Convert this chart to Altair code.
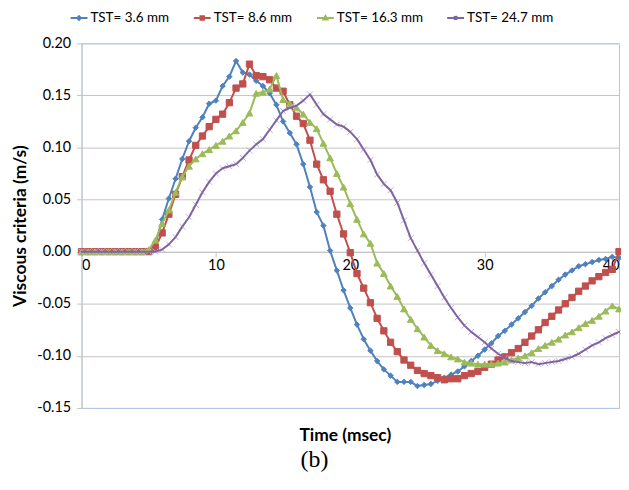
import altair as alt
import pandas as pd

# ---------------- data ----------------
TIME = [0, 0.5, 1, 1.5, 2, 2.5, 3, 3.5, 4, 4.5,
        5, 5.5, 6, 6.5, 7, 7.5, 8, 8.5, 9, 9.5,
        10, 10.5, 11, 11.5, 12, 12.5, 13, 13.5, 14, 14.5,
        15, 15.5, 16, 16.5, 17, 17.5, 18, 18.5, 19, 19.5,
        20, 20.5, 21, 21.5, 22, 22.5, 23, 23.5, 24, 24.5,
        25, 25.5, 26, 26.5, 27, 27.5, 28, 28.5, 29, 29.5,
        30, 30.5, 31, 31.5, 32, 32.5, 33, 33.5, 34, 34.5,
        35, 35.5, 36, 36.5, 37, 37.5, 38, 38.5, 39, 39.5,
        40]

TST_3_6 = [0, 0, 0, 0, 0, 0, 0, 0, 0, 0,
           0, 0.007, 0.031, 0.051, 0.070, 0.089, 0.106, 0.119, 0.129, 0.142,
           0.145, 0.159, 0.168, 0.183, 0.172, 0.170, 0.164, 0.159, 0.152, 0.141,
           0.125, 0.114, 0.103, 0.084, 0.062, 0.038, 0.025, 0.001, -0.018, -0.037,
           -0.054, -0.070, -0.084, -0.095, -0.105, -0.113, -0.119, -0.125, -0.125, -0.125,
           -0.129, -0.128, -0.127, -0.124, -0.121, -0.118, -0.115, -0.110, -0.105, -0.100,
           -0.094, -0.088, -0.081, -0.076, -0.070, -0.064, -0.058, -0.052, -0.045, -0.039,
           -0.033, -0.027, -0.022, -0.018, -0.014, -0.012, -0.010, -0.008, -0.007, -0.005,
           -0.006]

TST_8_6 = [0, 0, 0, 0, 0, 0, 0, 0, 0, 0,
           0, 0.004, 0.018, 0.036, 0.055, 0.072, 0.088, 0.102, 0.111, 0.120,
           0.127, 0.132, 0.143, 0.157, 0.161, 0.180, 0.169, 0.168, 0.165, 0.157,
           0.154, 0.141, 0.130, 0.123, 0.107, 0.084, 0.069, 0.058, 0.036, 0.017,
           -0.001, -0.021, -0.035, -0.049, -0.064, -0.076, -0.087, -0.096, -0.104, -0.109,
           -0.114, -0.117, -0.119, -0.121, -0.123, -0.122, -0.122, -0.119, -0.117, -0.115,
           -0.111, -0.108, -0.104, -0.101, -0.097, -0.093, -0.087, -0.081, -0.075, -0.068,
           -0.062, -0.056, -0.050, -0.044, -0.038, -0.033, -0.028, -0.024, -0.020, -0.017,
           0.000]

TST_16_3 = [0, 0, 0, 0, 0, 0, 0, 0, 0, 0,
            0.002, 0.011, 0.027, 0.040, 0.057, 0.072, 0.082, 0.089, 0.094, 0.098,
            0.102, 0.106, 0.111, 0.116, 0.124, 0.133, 0.152, 0.153, 0.156, 0.169,
            0.146, 0.142, 0.138, 0.132, 0.124, 0.118, 0.104, 0.090, 0.075, 0.062,
            0.046, 0.031, 0.017, 0.008, -0.011, -0.021, -0.033, -0.043, -0.055, -0.065,
            -0.074, -0.082, -0.090, -0.095, -0.098, -0.101, -0.103, -0.106, -0.107, -0.108,
            -0.108, -0.108, -0.107, -0.106, -0.104, -0.102, -0.100, -0.097, -0.093, -0.090,
            -0.087, -0.084, -0.080, -0.077, -0.073, -0.069, -0.066, -0.062, -0.057, -0.052,
            -0.055]

TST_24_7 = [0, 0, 0, 0, 0, 0, 0, 0, 0, 0,
            0, 0, 0.002, 0.007, 0.014, 0.024, 0.033, 0.045, 0.057, 0.067,
            0.075, 0.080, 0.082, 0.084, 0.090, 0.097, 0.103, 0.108, 0.117, 0.126,
            0.135, 0.138, 0.140, 0.145, 0.151, 0.141, 0.132, 0.127, 0.122, 0.120,
            0.115, 0.108, 0.098, 0.088, 0.074, 0.065, 0.059, 0.047, 0.030, 0.013,
            0.001, -0.011, -0.022, -0.033, -0.044, -0.054, -0.063, -0.071, -0.077, -0.082,
            -0.087, -0.093, -0.098, -0.102, -0.105, -0.106, -0.107, -0.106, -0.108, -0.107,
            -0.106, -0.105, -0.103, -0.101, -0.098, -0.094, -0.090, -0.087, -0.083, -0.080,
            -0.077]

SERIES = ["TST= 3.6 mm", "TST= 8.6 mm", "TST= 16.3 mm", "TST= 24.7 mm"]
VALUES = [TST_3_6, TST_8_6, TST_16_3, TST_24_7]
X_TICKS = [0, 10, 20, 30, 40]
Y_TICKS = [-0.15, -0.10, -0.05, 0.00, 0.05, 0.10, 0.15, 0.20]

# ---------------- styles ----------------
COLORS = ["#4F81BD", "#C0504D", "#9BBB59", "#8064A2"]
MARKER_COLORS = ["#4F81BD", "#C0504D", "#9BBB59", "#BDB0D8"]
X_PATH = "M-1,-1L1,1M-1,1L1,-1"
# (shape, size, filled, markers drawn below the line?)
MARKERS = [("diamond", 30, True, False), ("square", 40, True, False),
           ("triangle-up", 46, True, False), (X_PATH, 36, False, True)]
LEGEND_PATHS = [
    "M-1,0H1M0,-0.22L0.22,0L0,0.22L-0.22,0Z",
    "M-1,0H1M-0.2,-0.2H0.2V0.2H-0.2Z",
    "M-1,0H1M0,-0.24L0.24,0.18H-0.24Z",
    "M-1,0H1M-0.2,-0.2L0.2,0.2M-0.2,0.2L0.2,-0.2",
]
FONT = "Lato"
TEXT = "#000000"
GRID = "#c4c4c4"
BORDER = "#b4c7e7"
LEGEND_SIZE = 13.5
LABEL_SIZE = 14.5
TITLE_SIZE = 17.5

W, H = 541, 367
Y_MIN, Y_MAX = Y_TICKS[0], Y_TICKS[-1]
X_AXIS_OFFSET = -H * (0 - Y_MIN) / (Y_MAX - Y_MIN)

x_axis = alt.Axis(
    values=X_TICKS, grid=False, offset=X_AXIS_OFFSET,
    domainColor=GRID, tickColor=GRID, tickSize=5,
    labelFont=FONT, labelFontSize=LABEL_SIZE, labelColor=TEXT, labelPadding=2,
    title="Time (msec)", titleFont=FONT, titleFontSize=TITLE_SIZE, titleFontWeight="bold",
    titleColor=TEXT, titleX=265, titleY=185, titleAlign="center", titleBaseline="middle",
)
y_axis = alt.Axis(
    values=Y_TICKS,
    labelExpr="replace(format(datum.value, '.2f'), '\u2212', '-')",
    grid=True,
    gridColor={"condition": {"test": "abs(datum.value - 0.2) < 1e-6 || abs(datum.value + 0.15) < 1e-6",
                             "value": BORDER}, "value": GRID},
    domainColor=GRID, tickColor=GRID, tickSize=5,
    labelFont=FONT, labelFontSize=LABEL_SIZE, labelColor=TEXT, labelPadding=6,
    title="Viscous criteria (m/s)", titleFont=FONT, titleFontSize=TITLE_SIZE, titleFontWeight="bold",
    titleColor=TEXT, titleX=-61, titleBaseline="middle",
)
x_enc = alt.X("t:Q", scale=alt.Scale(domain=[0, 40], nice=False, zero=False), axis=x_axis)
y_enc = alt.Y("v:Q", scale=alt.Scale(domain=[Y_MIN, Y_MAX], nice=False, zero=False), axis=y_axis)

layers = []
for name, vals, col, mcol, (shape, size, filled, below) in zip(SERIES, VALUES, COLORS, MARKER_COLORS, MARKERS):
    d = pd.DataFrame({"t": TIME, "v": vals, "series": name})
    base = alt.Chart(d).encode(x=x_enc, y=y_enc)
    line = base.mark_line(color=col, strokeWidth=2, strokeJoin="round", strokeCap="round")
    if filled:
        pts = base.mark_point(shape=shape, size=size, filled=True, fill=mcol, stroke=mcol,
                              strokeWidth=1, opacity=1)
    else:
        pts = base.mark_point(shape=shape, size=size, filled=False, stroke=mcol,
                              strokeWidth=1, opacity=1)
    layers.extend([pts, line] if below else [line, pts])

legend_df = pd.DataFrame({"series": SERIES})
leg = dict(title=None, orient="none", legendX=-12, legendY=-35, direction="horizontal",
           symbolSize=289, symbolStrokeWidth=2, labelFont=FONT, labelFontSize=LEGEND_SIZE,
           labelColor=TEXT, columnPadding=20, labelOffset=2)
legend_layer = alt.Chart(legend_df).transform_filter("false").mark_point(
    filled=True, strokeWidth=2, opacity=1
).encode(
    color=alt.Color("series:N", scale=alt.Scale(domain=SERIES, range=COLORS), legend=alt.Legend(**leg)),
    stroke=alt.Stroke("series:N", scale=alt.Scale(domain=SERIES, range=COLORS), legend=alt.Legend(**leg)),
    shape=alt.Shape("series:N", scale=alt.Scale(domain=SERIES, range=LEGEND_PATHS), legend=alt.Legend(**leg)),
)
layers.append(legend_layer)

chart = alt.layer(*layers).properties(
    width=W, height=H,
    autosize=alt.AutoSizeParams(type="none"),
    padding={"left": 74, "top": 34, "right": 2, "bottom": 70},
    title=alt.TitleParams("(b)", orient="bottom", font="Liberation Serif", fontSize=24,
                          fontWeight="normal", color=TEXT, anchor="middle", frame="group", dx=-36),
).configure_view(stroke=BORDER, strokeWidth=1)

chart.save("out.html", embed_options={"renderer": "svg", "actions": False})
